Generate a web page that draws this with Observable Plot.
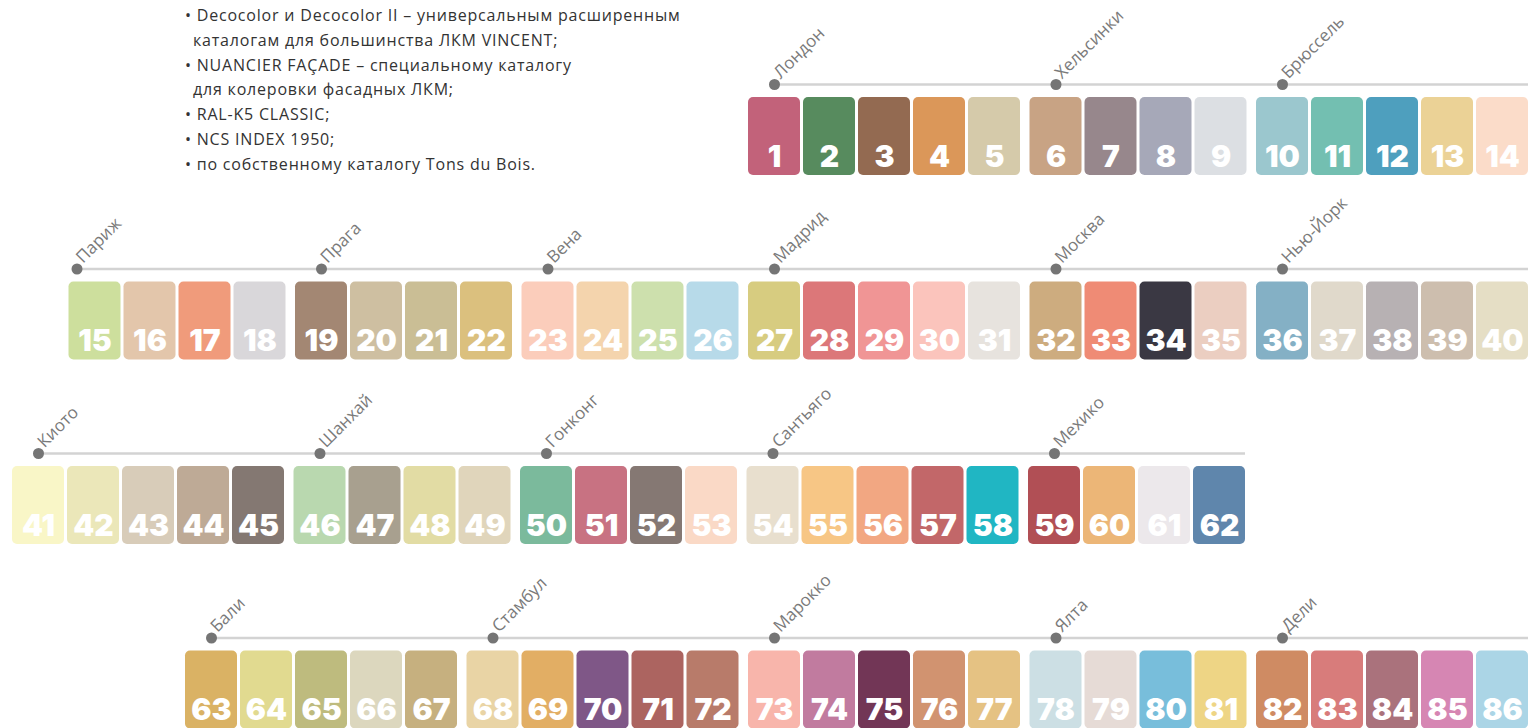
<!DOCTYPE html>
<html>
<head>
<meta charset="utf-8">
<script src="https://cdn.jsdelivr.net/npm/d3@7"></script>
<script src="https://cdn.jsdelivr.net/npm/@observablehq/plot@0.6"></script>
<style>
  html, body { margin: 0; padding: 0; background: #fff; }
  #wrap { position: relative; width: 1529px; height: 728px; overflow: hidden; }
  #notes { position: absolute; left: 185px; top: 3px; font-family: "Open Sans", sans-serif;
           font-size: 16px; letter-spacing: 0.8px; line-height: 24.8px; color: #333; white-space: nowrap; }
  #notes .in { padding-left: 8px; }
</style>
</head>
<body>
<div id="wrap"><div id="chart"></div><div id="notes"></div></div>
<script>
// ---------- data ----------
const cities = ["Лондон","Хельсинки","Брюссель",
                "Париж","Прага","Вена","Мадрид","Москва","Нью-Йорк",
                "Киото","Шанхай","Гонконг","Сантьяго","Мехико",
                "Бали","Стамбул","Марокко","Ялта","Дели"];
const cityRow  = [0,0,0, 1,1,1,1,1,1, 2,2,2,2,2, 3,3,3,3,3];
const citySize = [5,4,5, 4,4,4,5,4,5, 5,4,4,5,4, 5,5,5,4,5];
const colors = [
  "#C2627A","#578B5E","#936A51","#DB9759","#D5CAAA",
  "#C8A384","#97878C","#A6A8B8","#DCDFE3",
  "#9BC7CE","#73BFB1","#4E9FBE","#EBD296","#FBDCC9",
  "#CDDF9D","#E3C6AB","#F09B7B","#D9D7DA",
  "#A38773","#CEBFA1","#CABE95","#DBC07E",
  "#FBCDBB","#F4D4AD","#CDE0AD","#B7DAE9",
  "#D7CC80","#DC7779","#F09595","#FBC4BC","#E7E3DE",
  "#CDAC7F","#EF8B75","#3A3843","#EBCEC1",
  "#84B0C5","#E0D9CB","#B7B1B3","#CDBEAE","#E5DEC5",
  "#F9F6C7","#EBE7B9","#D8CCB9","#BEAA96","#847872",
  "#B9D8AF","#A8A08F","#E2DCA4","#E0D5BB",
  "#7BBA9C","#C87282","#857873","#FAD9C6",
  "#E8DFCE","#F7C685","#F2A782","#C26769","#20B6C3",
  "#B14F55","#ECB677","#ECE8EB","#5F86AC",
  "#DAB264","#E1DA90","#BEBB7E","#DCD7BE","#C6B07F",
  "#E9D4A5","#E2AE64","#7F5787","#AC6460","#B87B6A",
  "#F8B5AB","#C17B9F","#723656","#D19370","#E5C283",
  "#CCDFE4","#E6DBD6","#78BEDB","#EED585",
  "#CF8B63","#D87C7B","#AA727C","#D686B3","#ABD5E6"
];
const bullets = [
  ["• Decocolor и Decocolor II – универсальным расширенным", false],
  ["каталогам для большинства ЛКМ VINCENT;", true],
  ["• NUANCIER FAÇADE – специальному каталогу", false],
  ["для колеровки фасадных ЛКМ;", true],
  ["• RAL-K5 CLASSIC;", false],
  ["• NCS INDEX 1950;", false],
  ["• по собственному каталогу Tons du Bois.", false]
];

// ---------- layout (units: one swatch slot horizontally, one row vertically) ----------
const W = 1529, H = 728;
const SLOT = 55, ROWPX = 184.5, TOP = 97;
const SW = 52 / SLOT, GAP = 6.5 / SLOT, INNER = 3 / SLOT;
const SH = 78 / ROWPX, LINE = 13 / ROWPX, NUMB = 9 / ROWPX;
const rightEdge = 1528 / SLOT;
const rowStart = [null, null, 12 / SLOT, null];
const dotShift = {"Париж": -18 / SLOT};

const swatches = [], groups = [], lines = [];
let num = 0;
for (let r = 0; r < 4; r++) {
  const idx = cities.map((c, i) => i).filter(i => cityRow[i] === r);
  const slots = idx.reduce((s, i) => s + citySize[i], 0);
  const width = slots - INNER + (idx.length - 1) * GAP;
  const start = rowStart[r] ?? (rightEdge - width);
  let slot = 0;
  idx.forEach((gi, j) => {
    const gx = start + slot + j * GAP;
    groups.push({city: cities[gi], row: r, x: gx + SW / 2 + (dotShift[cities[gi]] || 0), y: r - LINE});
    for (let s = 0; s < citySize[gi]; s++) {
      const x1 = gx + s;
      swatches.push({n: String(num + 1), color: colors[num], x1, x2: x1 + SW, y1: r, y2: r + SH});
      num++;
    }
    slot += citySize[gi];
  });
  const first = groups.find(g => g.row === r);
  lines.push({y: r - LINE, x1: first.x, x2: start + width});
}

const chart = Plot.plot({
  width: W, height: H,
  margin: 0,
  x: {domain: [0, W / SLOT], range: [0, W], axis: null},
  y: {domain: [-TOP / ROWPX, (H - TOP) / ROWPX], range: [0, H], axis: null},
  color: {type: "identity"},
  style: {background: "transparent"},
  marks: [
    Plot.ruleY(lines, {y: "y", x1: "x1", x2: "x2", stroke: "#d3d3d3", strokeWidth: 2.5}),
    Plot.dot(groups, {x: "x", y: "y", r: 5.5, fill: "#757575", stroke: "none"}),
    Plot.text(groups, {x: "x", y: "y", text: "city", rotate: -45, textAnchor: "start",
      lineAnchor: "bottom", dx: 6, dy: -5, fontSize: 17, fill: "#7a7a7a",
      fontFamily: "Open Sans, sans-serif", letterSpacing: 0.3}),
    Plot.rect(swatches, {x1: "x1", x2: "x2", y1: "y1", y2: "y2", fill: "color", rx: 5}),
    Plot.text(swatches, {x: d => (d.x1 + d.x2) / 2, y: d => d.y2 - NUMB, text: "n",
      lineAnchor: "bottom", fill: "white", fontSize: 30, fontWeight: 900,
      fontFamily: "Inter, sans-serif", letterSpacing: -0.3})
  ]
});
document.getElementById("chart").appendChild(chart);

const notes = document.getElementById("notes");
for (const [t, indent] of bullets) {
  const d = document.createElement("div");
  d.textContent = t;
  if (indent) d.className = "in";
  notes.appendChild(d);
}
</script>
</body>
</html>
